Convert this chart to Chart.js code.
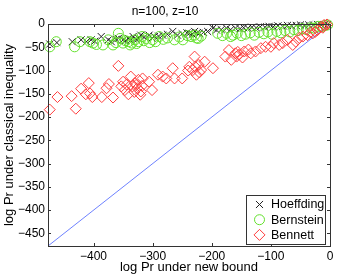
<!DOCTYPE html>
<html>
<head>
<meta charset="utf-8">
<script src="https://cdn.jsdelivr.net/npm/chart.js@4"></script>
<style>
  html, body { margin: 0; padding: 0; background: #fff; }
  #wrap { width: 341px; height: 276px; }
</style>
</head>
<body>
<div id="wrap"><canvas id="c" width="341" height="276"></canvas></div>
<script>
const titleText = "n=100, z=10";
const xTicks = [-400, -300, -200, -100, 0];
const yTicks = [0, -50, -100, -150, -200, -250, -300, -350, -400, -450];
const axisMin = -477;

const diagX = [-477, 0];
const diagY = [-477, 0];

const hoeffX = [-474, -462, -436, -421, -412, -404, -398, -387, -375, -370, -362, -358, -350, -346, -341, -337, -333, -328, -324, -320,
  -314, -306, -301, -297, -290, -283, -275, -266, -258, -250, -242, -238, -233, -229, -225, -221, -214, -207, -198, -192,
  -184, -175, -168, -160, -152, -146, -139, -132, -125, -118, -110, -103, -96, -88, -80, -72, -65, -57, -50, -43,
  -36, -28, -21, -15, -9, -4];
const hoeffY = [-43, -40, -38, -34, -38, -34, -37, -27, -34, -38, -33, -31, -34, -36, -31, -35, -27, -33, -31, -24,
  -28, -24, -30, -27, -26, -24, -22, -16, -24, -21, -19, -20, -22, -16, -19, -20, -18, -16, -9, -13,
  -12, -9, -12, -9, -10, -8, -9, -7, -8, -6, -7, -5, -6, -4, -5, -3, -4, -3, -2, -4,
  -2, -2, -1, -2, -1, -1];

const bernX = [-474, -463, -432, -423, -406, -401, -395, -384, -375, -367, -362, -358, -355, -350, -346, -341, -338, -335, -330, -327,
  -324, -318, -315, -311, -305, -300, -295, -289, -282, -275, -263, -255, -249, -241, -235, -229, -226, -223, -218, -190,
  -182, -175, -168, -164, -157, -150, -143, -135, -128, -120, -112, -105, -98, -90, -83, -76, -68, -61, -54, -47,
  -40, -33, -27, -20, -14, -8, -4];
const bernY = [-49, -38, -49, -38, -38, -41, -44, -45, -34, -45, -40, -20, -31, -41, -36, -38, -45, -41, -34, -42,
  -38, -27, -36, -31, -40, -34, -38, -27, -33, -30, -34, -28, -34, -25, -27, -24, -30, -31, -26, -20,
  -25, -20, -27, -24, -20, -25, -22, -19, -24, -18, -21, -17, -22, -16, -19, -14, -17, -12, -14, -10,
  -12, -8, -9, -5, -6, -3, -2];

const bennX = [-474, -461, -437, -430, -421, -413, -408, -406, -402, -386, -378, -374, -367, -358, -353, -350, -347, -344, -341, -337,
  -334, -331, -330, -328, -326, -324, -321, -320, -318, -317, -306, -301, -291, -283, -277, -266, -263, -250, -240, -238,
  -232, -229, -228, -226, -222, -221, -218, -212, -198, -177, -171, -167, -160, -158, -156, -154, -148, -145, -138, -134,
  -126, -117, -109, -100, -95, -86, -80, -72, -63, -58, -52, -46, -38, -33, -29, -25, -21, -15, -12, -10, -5];
const bennY = [-184, -157, -155, -182, -139, -151, -127, -149, -157, -157, -138, -129, -158, -90, -134, -124, -142, -130, -151, -113,
  -134, -146, -127, -131, -138, -120, -152, -145, -133, -117, -124, -142, -109, -113, -117, -95, -117, -117, -100, -92,
  -99, -70, -92, -109, -88, -104, -99, -81, -95, -70, -56, -77, -63, -70, -60, -66, -72, -59, -55, -63,
  -59, -52, -49, -49, -41, -45, -41, -34, -45, -38, -30, -27, -24, -18, -20, -17, -13, -6, -8, -2, -1];

const toPts = (xs, ys) => xs.map((x, i) => ({ x, y: ys[i] }));
const fmtTick = v => (v < 0 ? "\u2212" + Math.abs(v) : String(v));
const FAMILY = "'Liberation Sans', Arial, sans-serif";
const FONT = { family: FAMILY, size: 12 };
const LABEL_FONT = { family: FAMILY, size: 13 };

const series = [
  { label: "Hoeffding", style: "crossRot", color: "#222", radius: 5, x: hoeffX, y: hoeffY },
  { label: "Bernstein", style: "circle", color: "rgb(100,225,45)", radius: 5, x: bernX, y: bernY },
  { label: "Bennett", style: "rectRot", color: "rgb(255,60,60)", radius: 5.5, x: bennX, y: bennY },
];

// box + inward tick marks, matlab style
const frame = {
  id: "frame",
  afterDatasetsDraw(chart) {
    const { ctx, chartArea: a, scales } = chart;
    ctx.save();
    ctx.strokeStyle = "#333";
    ctx.lineWidth = 1;
    ctx.beginPath();
    for (const v of xTicks) {
      const px = Math.round(scales.x.getPixelForValue(v)) + 0.5;
      ctx.moveTo(px, a.bottom); ctx.lineTo(px, a.bottom - 3);
      ctx.moveTo(px, a.top); ctx.lineTo(px, a.top + 3);
    }
    for (const v of yTicks) {
      const py = Math.round(scales.y.getPixelForValue(v)) + 0.5;
      ctx.moveTo(a.left, py); ctx.lineTo(a.left + 3, py);
      ctx.moveTo(a.right, py); ctx.lineTo(a.right - 3, py);
    }
    ctx.stroke();
    ctx.strokeRect(Math.round(a.left) + 0.5, Math.round(a.top) + 0.5,
      Math.round(a.right - a.left), Math.round(a.bottom - a.top));
    ctx.restore();
  },
};

const insideLegend = {
  id: "insideLegend",
  afterDraw(chart) {
    const { ctx, chartArea: a } = chart;
    const w = 79, h = 49;
    const left = a.right - w - 5, top = a.bottom - h - 2;
    ctx.save();
    ctx.fillStyle = "#fff";
    ctx.fillRect(left, top, w, h);
    ctx.strokeStyle = "#333";
    ctx.lineWidth = 1;
    ctx.strokeRect(left + 0.5, top + 0.5, w, h);
    ctx.font = `12.5px ${FAMILY}`;
    ctx.textBaseline = "middle";
    series.forEach((s, i) => {
      const cy = top + 9.5 + i * 15.2;
      ctx.strokeStyle = s.color;
      ctx.fillStyle = "rgba(0,0,0,0)";
      Chart.helpers.drawPoint(ctx, { pointStyle: s.style, radius: s.radius, borderWidth: 1 }, left + 13.5, cy);
      ctx.fillStyle = "#000";
      ctx.fillText(s.label, left + 25, cy + 0.5);
    });
    ctx.restore();
  },
};

new Chart(document.getElementById("c"), {
  type: "scatter",
  data: {
    datasets: [
      ...series.map((s, i) => ({
        label: s.label,
        data: toPts(s.x, s.y),
        pointStyle: s.style,
        pointRadius: s.radius,
        pointBorderColor: s.color,
        pointBackgroundColor: "rgba(0,0,0,0)",
        pointBorderWidth: 1,
        showLine: false,
        clip: false,
        order: 3 - i,
      })),
      {
        label: "diag",
        data: toPts(diagX, diagY),
        showLine: true,
        borderColor: "rgb(110,130,255)",
        borderWidth: 1,
        pointRadius: 0,
        order: 10,
      },
    ],
  },
  options: {
    responsive: false,
    animation: false,
    layout: { padding: { left: 0, right: 11, top: 0, bottom: 0 } },
    plugins: {
      legend: { display: false },
      tooltip: { enabled: false },
      title: {
        display: true,
        text: titleText,
        color: "#000",
        font: { ...FONT, weight: "normal" },
        padding: { top: 4, bottom: 5.6 },
      },
    },
    scales: {
      x: {
        type: "linear",
        min: axisMin,
        max: 0,
        grid: { display: false, drawTicks: false },
        border: { display: false },
        ticks: { color: "#000", font: FONT, padding: 3, maxRotation: 0, callback: fmtTick },
        title: { display: true, text: "log Pr under new bound", color: "#000", font: LABEL_FONT, padding: { top: 0, bottom: 1 } },
        afterBuildTicks: s => { s.ticks = xTicks.map(v => ({ value: v })); },
        afterFit: s => { s.height = 30; },
      },
      y: {
        type: "linear",
        min: axisMin,
        max: 0,
        grid: { display: false, drawTicks: false },
        border: { display: false },
        ticks: { color: "#000", font: FONT, padding: 3, callback: fmtTick },
        title: { display: true, text: "log Pr under classical inequality", color: "#000", font: LABEL_FONT, padding: { top: 2, bottom: 0 } },
        afterBuildTicks: s => { s.ticks = yTicks.map(v => ({ value: v })); },
        afterFit: s => { s.width = 48; },
      },
    },
  },
  plugins: [frame, insideLegend],
});
</script>
</body>
</html>
